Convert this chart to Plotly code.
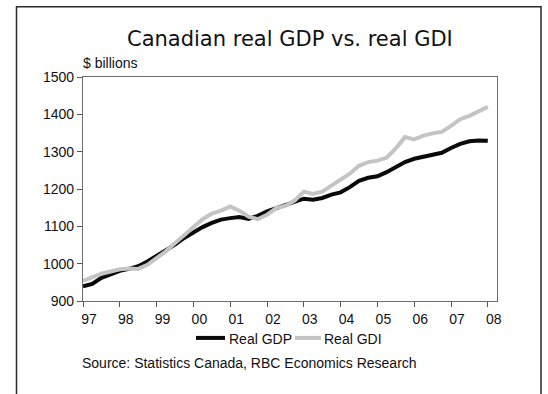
import plotly.graph_objects as go

# Quarterly series, 1997Q1 .. 2008Q1, $ billions
quarters = [1997 + i / 4 for i in range(45)]
real_gdp = [939, 946, 962, 972, 981, 986, 993, 1006, 1021, 1035, 1051, 1069, 1085,
            1098, 1109, 1118, 1122, 1125, 1120, 1128, 1140, 1149, 1158, 1167, 1174,
            1171, 1176, 1185, 1191, 1205, 1222, 1230, 1234, 1245, 1258, 1272, 1281,
            1286, 1291, 1297, 1310, 1321, 1328, 1330, 1329]
real_gdi = [954, 964, 973, 979, 985, 987, 986, 997, 1015, 1033, 1055, 1077, 1100,
            1119, 1134, 1142, 1153, 1142, 1126, 1119, 1131, 1149, 1155, 1169, 1193,
            1187, 1193, 1208, 1225, 1241, 1262, 1272, 1276, 1284, 1309, 1339, 1333,
            1343, 1349, 1353, 1369, 1387, 1396, 1408, 1420]
year_ticks = list(range(1997, 2009))
year_labels = ["97", "98", "99", "00", "01", "02", "03", "04", "05", "06", "07", "08"]

W, H = 548, 394
L, R, T, B = 83, 497, 77, 301.5
TEXT_FONT = "Liberation Sans, Arial, sans-serif"
TITLE_FONT = "DejaVu Sans, Verdana, sans-serif"


def px(x):
    return (x - L) / (R - L)


def py(y):
    return (B - y) / (B - T)


fig = go.Figure()
fig.add_trace(go.Scatter(x=quarters, y=real_gdp, mode="lines", name="Real GDP",
                         line=dict(color="#0a0a0a", width=4), showlegend=False))
fig.add_trace(go.Scatter(x=quarters, y=real_gdi, mode="lines", name="Real GDI",
                         line=dict(color="#c4c4c4", width=4), showlegend=False))

axis_common = dict(showgrid=False, zeroline=False, showline=True, mirror=True,
                   linecolor="#6e6e6e", linewidth=1.3, ticks="outside", ticklen=5,
                   tickcolor="#555", tickwidth=1.2,
                   tickfont=dict(family=TEXT_FONT, size=14, color="#111"))
fig.update_xaxes(range=[1997, 2008.25], tickvals=year_ticks, ticktext=year_labels,
                 ticklabelshift=6, **axis_common)
fig.update_yaxes(range=[900, 1500], dtick=100, **axis_common)

LEG_Y = 338.5
shapes = [
    # outer frame
    dict(type="rect", xref="paper", yref="paper", x0=px(16.5), x1=px(541),
         y0=py(420), y1=py(6.5), line=dict(color="#2a2a2a", width=1.5)),
    # legend samples
    dict(type="line", xref="paper", yref="paper", x0=px(196), x1=px(225),
         y0=py(LEG_Y), y1=py(LEG_Y), line=dict(color="#0a0a0a", width=4)),
    dict(type="line", xref="paper", yref="paper", x0=px(295), x1=px(321),
         y0=py(LEG_Y), y1=py(LEG_Y), line=dict(color="#c4c4c4", width=4)),
]

annotations = [
    dict(text="Canadian real GDP vs. real GDI", x=px(290), y=py(38.5), xref="paper",
         yref="paper", showarrow=False, xanchor="center", yanchor="middle",
         font=dict(family=TITLE_FONT, size=21, color="#111")),
    dict(text="$ billions", x=px(81), y=py(62.5), xref="paper", yref="paper",
         showarrow=False, xanchor="left", yanchor="middle",
         font=dict(family=TEXT_FONT, size=14, color="#111")),
    dict(text="Real GDP", x=px(227), y=py(LEG_Y + 1.5), xref="paper", yref="paper",
         showarrow=False, xanchor="left", yanchor="middle",
         font=dict(family=TEXT_FONT, size=14, color="#111")),
    dict(text="Real GDI", x=px(322), y=py(LEG_Y + 1.5), xref="paper", yref="paper",
         showarrow=False, xanchor="left", yanchor="middle",
         font=dict(family=TEXT_FONT, size=14, color="#111")),
    dict(text="Source: Statistics Canada, RBC Economics Research", x=px(80),
         y=py(363.5), xref="paper", yref="paper", showarrow=False, xanchor="left",
         yanchor="middle", font=dict(family=TEXT_FONT, size=14, color="#111")),
]

fig.update_layout(width=W, height=H, margin=dict(l=L, r=W - R, t=T, b=H - B),
                  paper_bgcolor="white", plot_bgcolor="white",
                  shapes=shapes, annotations=annotations)

fig.write_html("out.html")
